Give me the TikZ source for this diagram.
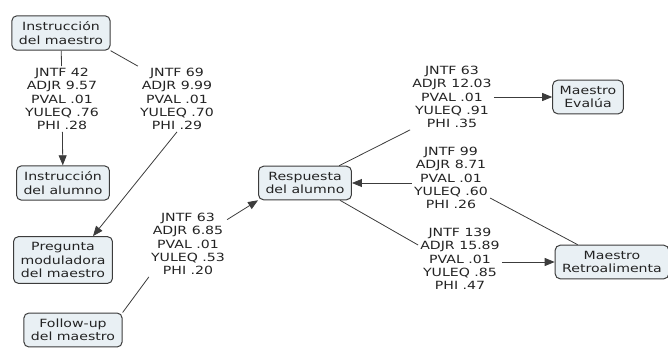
\documentclass[tikz,border=0pt]{standalone}
\usepackage{xcolor}
\usepackage{fontspec}
\setmainfont{DejaVu Sans}[FakeStretch=1.25]
\usepackage{tikz}
\usetikzlibrary{arrows.meta}
\definecolor{boxfill}{RGB}{233,240,244}
\definecolor{inkgray}{RGB}{35,35,35}
\definecolor{linegray}{RGB}{60,60,60}

\begin{document}
\begin{tikzpicture}[x=1pt, y=-1pt, font=\fontsize{11.3}{13.2}\selectfont, text=inkgray,
  concept/.style={draw=linegray, fill=boxfill, line width=1pt, rounded corners=5pt, align=center, inner xsep=7pt, inner ysep=6pt},
  stats/.style={align=center, inner sep=2pt},
  link/.style={draw=linegray, line width=0.8pt},
  linkarrow/.style={link, -{Triangle[length=10pt,width=8pt]}}]
\useasboundingbox (0,0) rectangle (668,348);
\node[concept] (imaestro) at (61,33) {Instrucción\\del maestro};
\node[concept] (ialumno) at (63,183) {Instrucción\\del alumno};
\node[concept] (pregunta) at (63,260) {Pregunta\\moduladora\\del maestro};
\node[concept] (followup) at (73,330) {Follow-up\\del maestro};
\node[concept] (respuesta) at (305,183) {Respuesta\\del alumno};
\node[concept] (evalua) at (588,97) {Maestro\\Evalúa};
\node[concept] (retro) at (612,262) {Maestro\\Retroalimenta};
\node[stats] (s1) at (62,99) {JNTF 42\\ADJR 9.57\\PVAL .01\\YULEQ .76\\PHI .28};
\node[stats] (s2) at (177,99) {JNTF 69\\ADJR 9.99\\PVAL .01\\YULEQ .70\\PHI .29};
\node[stats] (s3) at (188,244) {JNTF 63\\ADJR 6.85\\PVAL .01\\YULEQ .53\\PHI .20};
\node[stats] (s4) at (452,97) {JNTF 63\\ADJR 12.03\\PVAL .01\\YULEQ .91\\PHI .35};
\node[stats] (s5) at (451,178) {JNTF 99\\ADJR 8.71\\PVAL .01\\YULEQ .60\\PHI .26};
\node[stats] (s6) at (460,259) {JNTF 139\\ADJR 15.89\\PVAL .01\\YULEQ .85\\PHI .47};

\draw[link] (imaestro) -- (s1);
\draw[linkarrow] (s1) -- (ialumno);
\draw[link] (imaestro.south east) -- (s2.north west);
\draw[linkarrow] (s2.south) -- ([xshift=-20pt]pregunta.north east);
\draw[link] (followup.north east) -- (s3.south west);
\draw[linkarrow] (s3) -- (respuesta.south west);
\draw[link] (respuesta) -- (s4.south west);
\draw[linkarrow] (s4) -- (evalua);
\draw[link] ([xshift=23pt]retro.north west) -- ([yshift=-20pt]s5.east);
\draw[linkarrow] (s5.west |- respuesta) -- (respuesta);
\draw[link] ([xshift=-12pt]respuesta.south east) -- ([yshift=14pt]s6.west);
\draw[linkarrow] (s6.east |- retro) -- (retro);
\end{tikzpicture}
\end{document}
